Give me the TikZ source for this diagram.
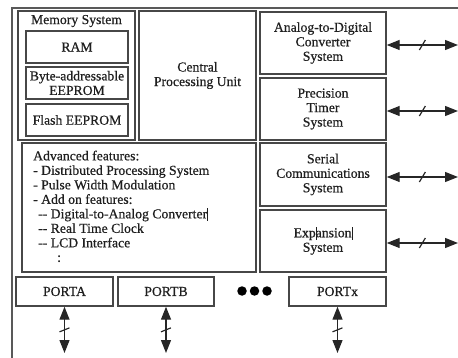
\documentclass[tikz,border=0pt]{standalone}
\usepackage{fontspec}
\setmainfont{Liberation Serif}[FakeBold=0.6]
\usetikzlibrary{arrows.meta,calc}
\newcommand{\cbar}{\rule[-2.5pt]{0.8pt}{12.5pt}}
\begin{document}
\begin{tikzpicture}[x=1pt,y=-1pt,
  box/.style={draw=black!72, line width=1.4pt, rectangle, inner sep=0pt, align=center,
    font=\fontsize{13.7}{14.5}\selectfont, text=black!88},
  txt/.style={inner sep=0pt, align=center, font=\fontsize{13.7}{14.5}\selectfont, text=black!88},
  dbl/.style={draw=black!85, line width=1.3pt, {Triangle[length=13pt,width=10pt]}-{Triangle[length=13pt,width=10pt]}},
  slashln/.style={draw=black!85, line width=1.2pt},
  frameln/.style={draw=black!65, line width=1.5pt},
  dot/.style={circle, fill=black, inner sep=0pt, minimum size=9.5pt}]
\useasboundingbox (0,0) rectangle (458,358);
% outer frame (cropped)
\draw[frameln] (12,360) -- (12,8) -- (460,8);
% memory system
\node[box, minimum width=117pt, minimum height=129pt] (mem) at (76.5,75.5) {};
\node[txt] (memlbl) at (76.5,21) {Memory System};
\node[box, minimum width=102pt, minimum height=32pt] (ram) at (77,47) {RAM};
\node[box, minimum width=102pt, minimum height=32pt] (eep) at (77,83) {Byte-addressable\\EEPROM};
\node[box, minimum width=102pt, minimum height=32pt] (flash) at (77,120) {Flash EEPROM};
% CPU
\node[box, minimum width=117pt, minimum height=129pt] (cpu) at (197.5,75.5) {Central\\Processing Unit};
% right column
\node[box, minimum width=126pt, minimum height=62pt] (adc) at (323,43) {Analog-to-Digital\\Converter\\System};
\node[box, minimum width=126pt, minimum height=62pt] (tim) at (323,109) {Precision\\Timer\\System};
\node[box, minimum width=126pt, minimum height=63pt] (ser) at (323,174.5) {Serial\\Communications\\System};
\node[box, minimum width=126pt, minimum height=62pt] (exp) at (323,241) {Exp\rlap{\cbar}ansion\cbar\\System};
% advanced features
\node[box, minimum width=234pt, minimum height=129pt] (adv) at (139,207.5) {};
\node[txt, align=left, anchor=north west] (advtxt) at (33,150.5)
  {Advanced features:\\
   - Distributed Processing System\\
   - Pulse Width Modulation\\
   - Add on features:\\
   \hspace*{5pt}-{}- Digital-to-Analog Converter\cbar\\
   \hspace*{5pt}-{}- Real Time Clock\\
   \hspace*{5pt}-{}- LCD Interface\\
   \hspace*{24pt}:};
% ports
\node[box, minimum width=97pt, minimum height=29pt] (pa) at (64.5,291.5) {PORTA};
\node[box, minimum width=96pt, minimum height=29pt] (pb) at (166,291.5) {PORTB};
\node[box, minimum width=97pt, minimum height=29pt] (px) at (337.5,291.5) {PORTx};
\node[dot] (d1) at (242,291) {};
\node[dot] (d2) at (254.5,291) {};
\node[dot] (d3) at (267,291) {};
% right arrows
\coordinate (ea) at (458,45);
\coordinate (et) at (458,111);
\coordinate (es) at (458,177);
\coordinate (ee) at (458,243);
\draw[dbl] (adc.east |- ea) -- coordinate[pos=0.5] (ma) (ea);
\draw[dbl] (tim.east |- et) -- coordinate[pos=0.5] (mt) (et);
\draw[dbl] (ser.east |- es) -- coordinate[pos=0.5] (ms) (es);
\draw[dbl] (exp.east |- ee) -- coordinate[pos=0.5] (me) (ee);
\foreach \m in {ma,mt,ms,me}
  \draw[slashln] ([shift={(-3,5)}]\m) -- ([shift={(3,-5)}]\m);
% port arrows
\coordinate (ba) at (64.5,353);
\coordinate (bb) at (166,353);
\coordinate (bx) at (337.5,353);
\draw[dbl] (pa.south) -- coordinate[pos=0.5] (mpa) (ba);
\draw[dbl] (pb.south) -- coordinate[pos=0.5] (mpb) (bb);
\draw[dbl] (px.south) -- coordinate[pos=0.5] (mpx) (bx);
\foreach \m in {mpa,mpb,mpx}
  \draw[slashln] ([shift={(-5,2)}]\m) -- ([shift={(5,-2)}]\m);
\end{tikzpicture}
\end{document}
